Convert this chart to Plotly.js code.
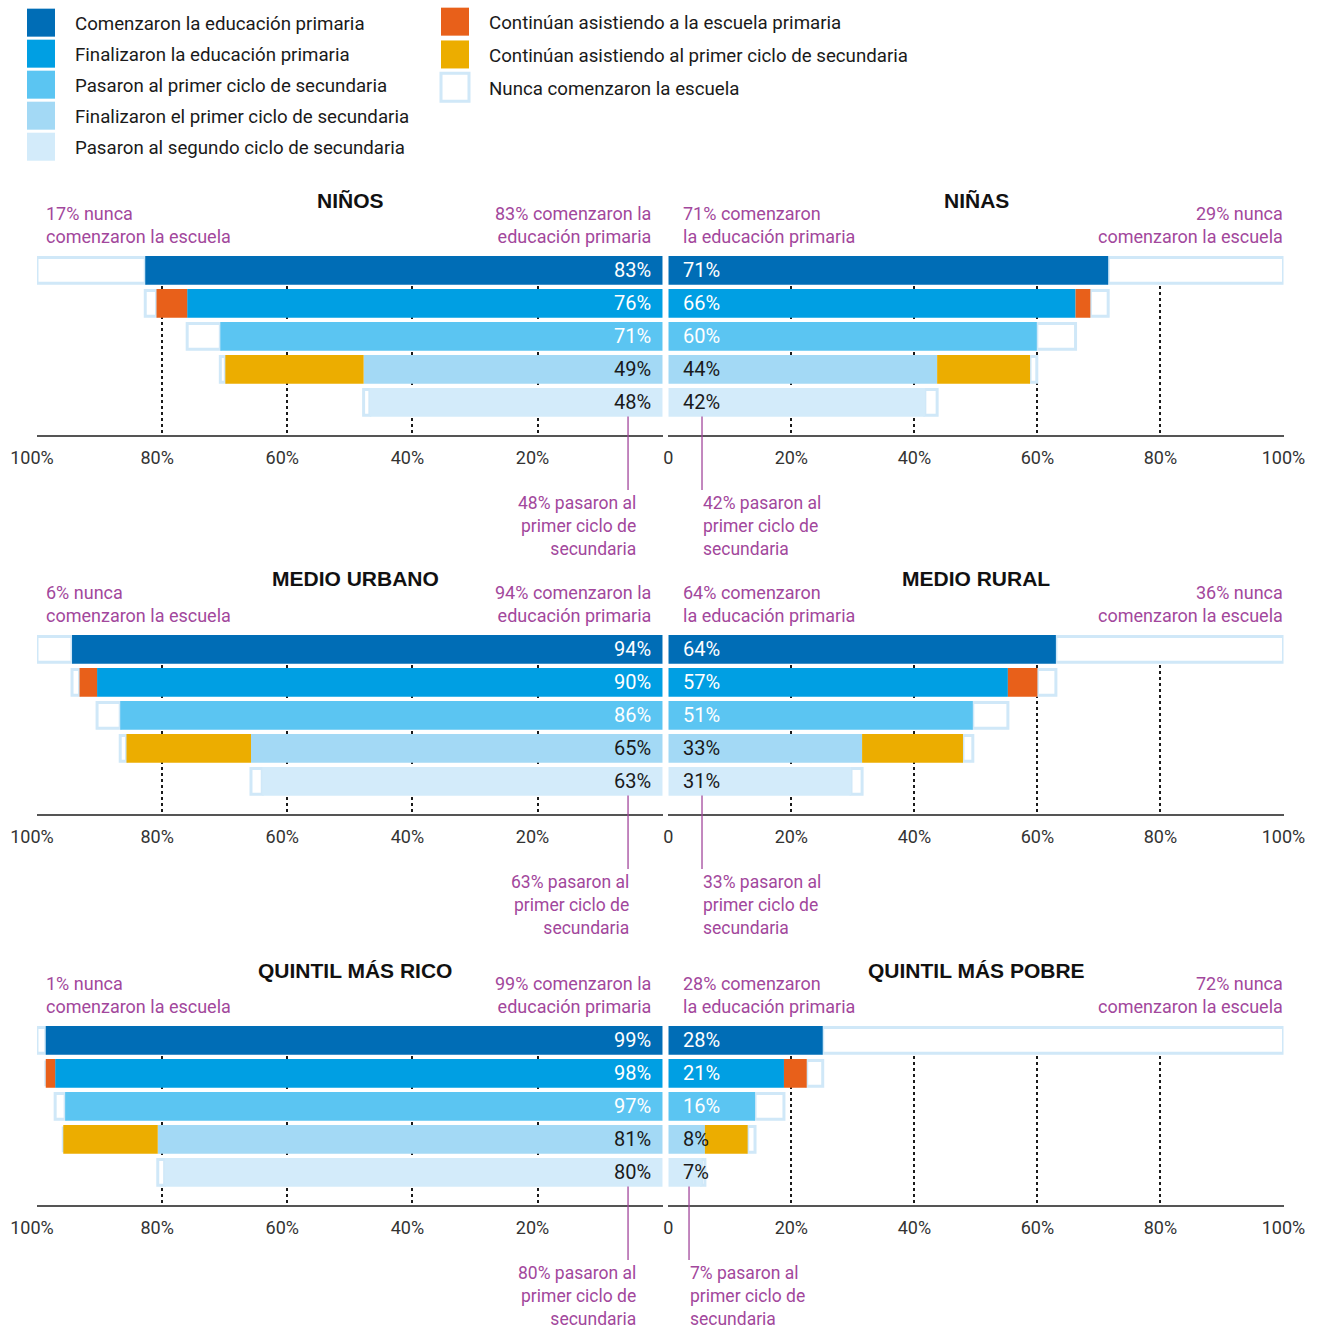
<!DOCTYPE html>
<html>
<head>
<meta charset="utf-8">
<script src="https://cdn.plot.ly/plotly-3.0.1.min.js"></script>
<style>
html,body{margin:0;padding:0;background:#fff;}
#chart{width:1319px;height:1330px;}
</style>
</head>
<body>
<div id="chart"></div>
<script>
// ---------- DATA ----------
const stageNames = [
  'Comenzaron la educación primaria',
  'Finalizaron la educación primaria',
  'Pasaron al primer ciclo de secundaria',
  'Finalizaron el primer ciclo de secundaria',
  'Pasaron al segundo ciclo de secundaria'
];
const contPrimaryName = 'Continúan asistiendo a la escuela primaria';
const contLowerSecName = 'Continúan asistiendo al primer ciclo de secundaria';
const neverName = 'Nunca comenzaron la escuela';

const groupTitles = ['NIÑOS', 'NIÑAS', 'MEDIO URBANO', 'MEDIO RURAL', 'QUINTIL MÁS RICO', 'QUINTIL MÁS POBRE'];

// bar lengths (%) as drawn, one per stage
const ninosBars  = [82.7, 76.0, 70.7, 47.8, 46.8];
const ninasBars  = [71.5, 66.2, 59.9, 43.7, 41.7];
const urbanoBars = [94.4, 90.4, 86.7, 65.8, 64.0];
const ruralBars  = [63.0, 55.2, 49.5, 31.5, 29.7];
const ricoBars   = [98.6, 97.1, 95.5, 80.7, 79.6];
const pobreBars  = [25.1, 18.8, 14.1, 5.95, 5.4];

// still attending (%): primary (stage 2 row) and lower secondary (stage 4 row)
const primaryContinuing  = [4.9, 2.4, 2.8, 4.8, 1.5, 3.7];
const lowerSecContinuing = [22.1, 15.1, 19.9, 16.4, 15.1, 6.95];

// value labels printed in the bars
const ninosLabels  = ['83%', '76%', '71%', '49%', '48%'];
const ninasLabels  = ['71%', '66%', '60%', '44%', '42%'];
const urbanoLabels = ['94%', '90%', '86%', '65%', '63%'];
const ruralLabels  = ['64%', '57%', '51%', '33%', '31%'];
const ricoLabels   = ['99%', '98%', '97%', '81%', '80%'];
const pobreLabels  = ['28%', '21%', '16%', '8%', '7%'];

// notes
const neverNotes = ['17% nunca<br>comenzaron la escuela', '29% nunca<br>comenzaron la escuela',
                    '6% nunca<br>comenzaron la escuela', '36% nunca<br>comenzaron la escuela',
                    '1% nunca<br>comenzaron la escuela', '72% nunca<br>comenzaron la escuela'];
const startedNotes = ['83% comenzaron la<br>educación primaria', '71% comenzaron<br>la educación primaria',
                      '94% comenzaron la<br>educación primaria', '64% comenzaron<br>la educación primaria',
                      '99% comenzaron la<br>educación primaria', '28% comenzaron<br>la educación primaria'];
const passedNotes = ['48% pasaron al<br>primer ciclo de<br>secundaria', '42% pasaron al<br>primer ciclo de<br>secundaria',
                     '63% pasaron al<br>primer ciclo de<br>secundaria', '33% pasaron al<br>primer ciclo de<br>secundaria',
                     '80% pasaron al<br>primer ciclo de<br>secundaria', '7% pasaron al<br>primer ciclo de<br>secundaria'];
const calloutLineX = [5.54, 5.48, 5.54, 5.48, 5.54, 3.37];
const calloutTextX = [3.95, 5.3, 5.06, 5.3, 3.95, 3.2];

const tickVals = [0, 20, 40, 60, 80, 100];
const leftTickText  = ['', '20%', '40%', '60%', '80%', '100%'];
const rightTickText = ['0', '20%', '40%', '60%', '80%', '100%'];

const barsByGroup = [ninosBars, ninasBars, urbanoBars, ruralBars, ricoBars, pobreBars];
const labelsByGroup = [ninosLabels, ninasLabels, urbanoLabels, ruralLabels, ricoLabels, pobreLabels];

// ---------- STYLE ----------
const W = 1319, H = 1330;
const stageColors = ['#006db6', '#009fe3', '#5bc5f2', '#a3d9f5', '#d3ebfa'];
const orange = '#e8601a', yellow = '#ecad00', outlineColor = '#d0e8f8';
const purple = '#a2479c';
const FONT = 'Roboto, "Liberation Sans", sans-serif';
const panelTop = [256, 635, 1026];
const panelH = 179;
const colX = [[37, 662.7], [668.3, 1283.5]];
const titleX = [350, 976, 355, 976, 355, 976];
const px = v => v / W;
const py = v => 1 - v / H;

const traces = [];
const legendFont = {family: FONT, size: 18.7, color: '#1a1a1a'};
const layout = {
  width: W, height: H,
  margin: {l: 0, r: 0, t: 0, b: 0},
  paper_bgcolor: '#fff', plot_bgcolor: 'rgba(0,0,0,0)',
  barmode: 'overlay',
  showlegend: true,
  font: {family: FONT, color: '#1a1a1a'},
  legend: {x: px(7), y: py(4), xanchor: 'left', yanchor: 'top', bgcolor: 'rgba(0,0,0,0)',
           font: legendFont, itemwidth: 58, tracegroupgap: 3.7,
           itemclick: false, itemdoubleclick: false},
  legend2: {x: px(421), y: py(3), xanchor: 'left', yanchor: 'top', bgcolor: 'rgba(0,0,0,0)',
            font: legendFont, itemwidth: 58, tracegroupgap: 5.5,
            itemclick: false, itemdoubleclick: false},
  annotations: [],
  shapes: []
};

for (let i = 0; i < 6; i++) {
  const panel = Math.floor(i / 2), side = i % 2;
  const xid = i === 0 ? 'x' : 'x' + (i + 1);
  const yid = i === 0 ? 'y' : 'y' + (i + 1);
  const xkey = i === 0 ? 'xaxis' : 'xaxis' + (i + 1);
  const ykey = i === 0 ? 'yaxis' : 'yaxis' + (i + 1);
  const top = panelTop[panel];
  const dom = [py(top + panelH), py(top)];

  layout[xkey] = {
    domain: [px(colX[side][0]), px(colX[side][1])],
    range: side === 0 ? [100, 0] : [0, 100],
    anchor: yid,
    tickmode: 'array', tickvals: tickVals,
    ticktext: side === 0 ? leftTickText : rightTickText,
    showgrid: true, gridcolor: '#1a1a1a', gridwidth: 1.5, griddash: '3px,3px',
    zeroline: false, showline: true, linecolor: '#555', linewidth: 2,
    ticks: '', ticklabelstandoff: 5, ticklabelshift: side === 0 ? 5 : 0,
    tickfont: {family: FONT, size: 18, color: '#333'},
    fixedrange: true
  };
  layout[ykey] = {
    domain: dom, range: [4.99, -0.435], anchor: xid,
    showgrid: false, zeroline: false, showline: false, showticklabels: false, ticks: '',
    fixedrange: true
  };

  const bars = barsByGroup[i];
  const cont = [0, primaryContinuing[i], 0, lowerSecContinuing[i], 0];
  const ends = bars.map((b, k) => b + cont[k]);
  const prev = bars.map((b, k) => k === 0 ? 100 : bars[k - 1]);
  const outW = ends.map((e, k) => Math.max(prev[k] - e, 0));

  // outline (not started / drop-out remainder), drawn first
  traces.push({
    type: 'bar', orientation: 'h', xaxis: xid, yaxis: yid,
    y: [0, 1, 2, 3, 4], x: outW, base: ends, width: 0.78,
    marker: {color: '#ffffff', line: {color: outlineColor, width: 3}},
    name: neverName, legend: 'legend2', legendgroup: 'never', legendrank: 8,
    showlegend: i === 0, hoverinfo: 'skip'
  });
  // stage bars
  for (let k = 0; k < 5; k++) {
    traces.push({
      type: 'bar', orientation: 'h', xaxis: xid, yaxis: yid,
      y: [k], x: [bars[k]], base: [0], width: 0.87,
      marker: {color: stageColors[k], line: {width: 0}},
      name: stageNames[k], legend: 'legend', legendgroup: 'stage' + k, legendrank: k + 1,
      showlegend: i === 0, hoverinfo: 'skip'
    });
  }
  traces.push({
    type: 'bar', orientation: 'h', xaxis: xid, yaxis: yid,
    y: [1], x: [primaryContinuing[i]], base: [bars[1]], width: 0.87,
    marker: {color: orange, line: {width: 0}},
    name: contPrimaryName, legend: 'legend2', legendgroup: 'contP', legendrank: 6,
    showlegend: i === 0, hoverinfo: 'skip'
  });
  traces.push({
    type: 'bar', orientation: 'h', xaxis: xid, yaxis: yid,
    y: [3], x: [lowerSecContinuing[i]], base: [bars[3]], width: 0.87,
    marker: {color: yellow, line: {width: 0}},
    name: contLowerSecName, legend: 'legend2', legendgroup: 'contS', legendrank: 7,
    showlegend: i === 0, hoverinfo: 'skip'
  });

  // value labels
  labelsByGroup[i].forEach((t, k) => {
    layout.annotations.push({
      xref: xid, yref: yid, x: 0, y: k, text: t, showarrow: false,
      xanchor: side === 0 ? 'right' : 'left', xshift: side === 0 ? -10 : 13, yanchor: 'middle',
      font: {family: FONT, size: 20, color: k < 3 ? '#ffffff' : '#1a1a1a'}
    });
  });

  // panel title
  layout.annotations.push({
    xref: 'paper', yref: 'paper',
    x: px(titleX[i]), y: py(top - 56),
    text: '<b>' + groupTitles[i] + '</b>', showarrow: false, xanchor: 'center', yanchor: 'middle',
    font: {family: '"Liberation Sans", Arial, sans-serif', size: 21, color: '#111'}
  });
  // header notes
  const noteFont = {family: FONT, size: 18, color: purple};
  if (side === 0) {
    layout.annotations.push({xref: 'paper', yref: 'paper', x: px(colX[0][0] + 7), y: py(top - 31),
      text: neverNotes[i], showarrow: false, xanchor: 'left', yanchor: 'middle', align: 'left', font: noteFont});
    layout.annotations.push({xref: 'paper', yref: 'paper', x: px(colX[0][1] - 10), y: py(top - 31),
      text: startedNotes[i], showarrow: false, xanchor: 'right', yanchor: 'middle', align: 'right', font: noteFont});
  } else {
    layout.annotations.push({xref: 'paper', yref: 'paper', x: px(colX[1][0] + 13), y: py(top - 31),
      text: startedNotes[i], showarrow: false, xanchor: 'left', yanchor: 'middle', align: 'left', font: noteFont});
    layout.annotations.push({xref: 'paper', yref: 'paper', x: px(colX[1][1] + 1), y: py(top - 31),
      text: neverNotes[i], showarrow: false, xanchor: 'right', yanchor: 'middle', align: 'right', font: noteFont});
  }
  // callout below axis
  const axisY = top + panelH;
  layout.shapes.push({type: 'line', xref: xid, yref: 'paper',
    x0: calloutLineX[i], x1: calloutLineX[i], y0: py(axisY - 18.5), y1: py(axisY + 55),
    line: {color: purple, width: 1.3}});
  layout.annotations.push({xref: xid, yref: 'paper', x: calloutTextX[i], y: py(axisY + 91),
    text: passedNotes[i], showarrow: false, xanchor: side === 0 ? 'right' : 'left', yanchor: 'middle',
    align: side === 0 ? 'right' : 'left', font: {family: FONT, size: 17.5, color: purple}});
}

Plotly.newPlot('chart', traces, layout, {displayModeBar: false}).then(gd => {
  // enlarge legend swatches to match the reference squares
  gd.querySelectorAll('.legendpoints path').forEach(p => {
    p.setAttribute('d', 'M14,14H-14V-14H14Z');
  });
});
</script>
</body>
</html>
